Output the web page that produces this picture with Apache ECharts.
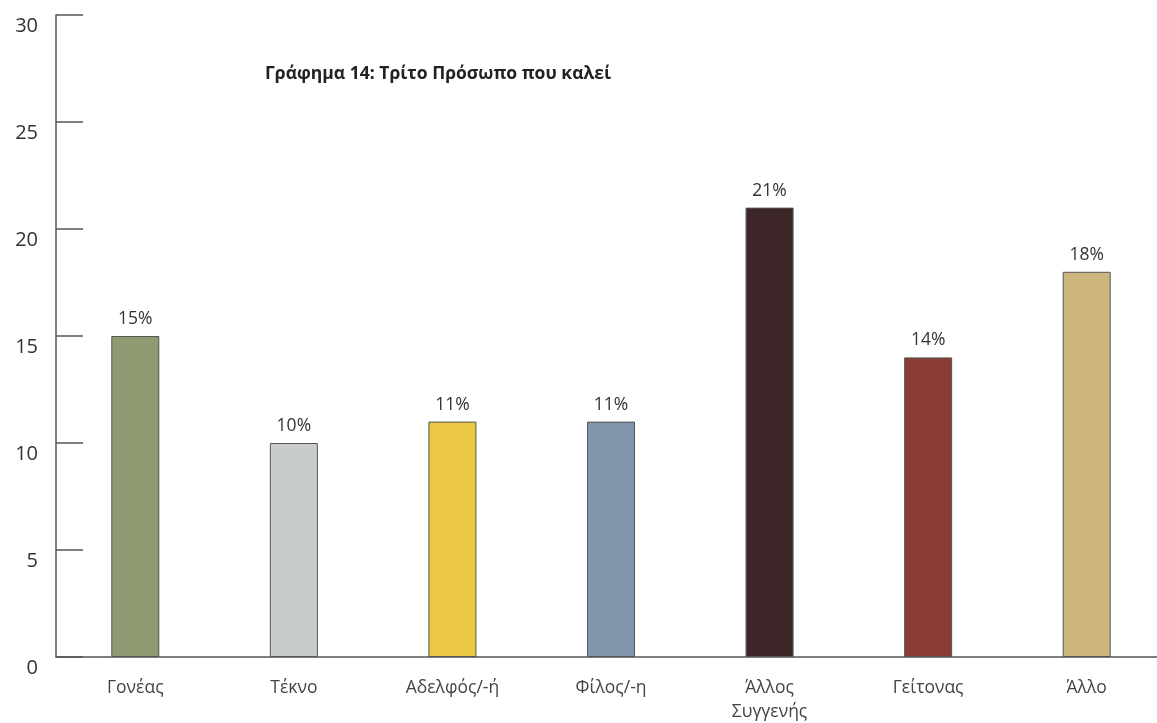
<!DOCTYPE html>
<html>
<head>
<meta charset="utf-8">
<script src="https://cdn.jsdelivr.net/npm/echarts@6/dist/echarts.min.js"></script>
<style>html,body{margin:0;padding:0;background:#fff}#c{width:1157px;height:723px}</style>
</head>
<body>
<div id="c"></div>
<script>
const categories = ['Γονέας', 'Τέκνο', 'Αδελφός/-ή', 'Φίλος/-η', 'Άλλος\nΣυγγενής', 'Γείτονας', 'Άλλο'];
const values = [15, 10, 11, 11, 21, 14, 18];
const colors = ['#8F9A72', '#C9CDC9', '#EBC843', '#7F95AB', '#3D2627', '#8A3B35', '#CDB67E'];
const titleText = 'Γράφημα 14: Τρίτο Πρόσωπο που καλεί';

const chart = echarts.init(document.getElementById('c'));
chart.setOption({
  backgroundColor: '#fff',
  animation: false,
  title: {
    text: titleText,
    left: 260, top: 60,
    textStyle: { fontFamily: 'Open Sans', fontWeight: 'bold', fontSize: 17.5, color: '#222' }
  },
  grid: { left: 56, top: 15, width: 1110, height: 642, outerBoundsMode: 'none', containLabel: false },
  xAxis: {
    type: 'category',
    data: categories,
    axisLine: { lineStyle: { color: '#555', width: 1.5 } },
    axisTick: { show: false },
    axisLabel: { color: '#444', fontFamily: 'Open Sans', fontSize: 17.5, margin: 19, lineHeight: 24 }
  },
  yAxis: {
    type: 'value',
    min: 0, max: 30, interval: 5,
    splitLine: { show: false },
    axisLine: { show: true, lineStyle: { color: '#555', width: 1.5 } },
    axisTick: { show: true, inside: true, length: 27, lineStyle: { color: '#555', width: 1.5 } },
    axisLabel: { color: '#333', fontFamily: 'Open Sans', fontSize: 20, margin: 18, verticalAlign: 'top', padding: [1, 0, 0, 0] }
  },
  series: [{
    type: 'bar',
    data: values.map((v, i) => ({ value: v, itemStyle: { color: colors[i] } })),
    barWidth: 48,
    itemStyle: { borderColor: '#555', borderWidth: 1 },
    label: {
      show: true, position: 'top', distance: 8,
      formatter: p => p.value + '%',
      color: '#333', fontFamily: 'Open Sans', fontSize: 17.5
    }
  }]
});
</script>
</body>
</html>
